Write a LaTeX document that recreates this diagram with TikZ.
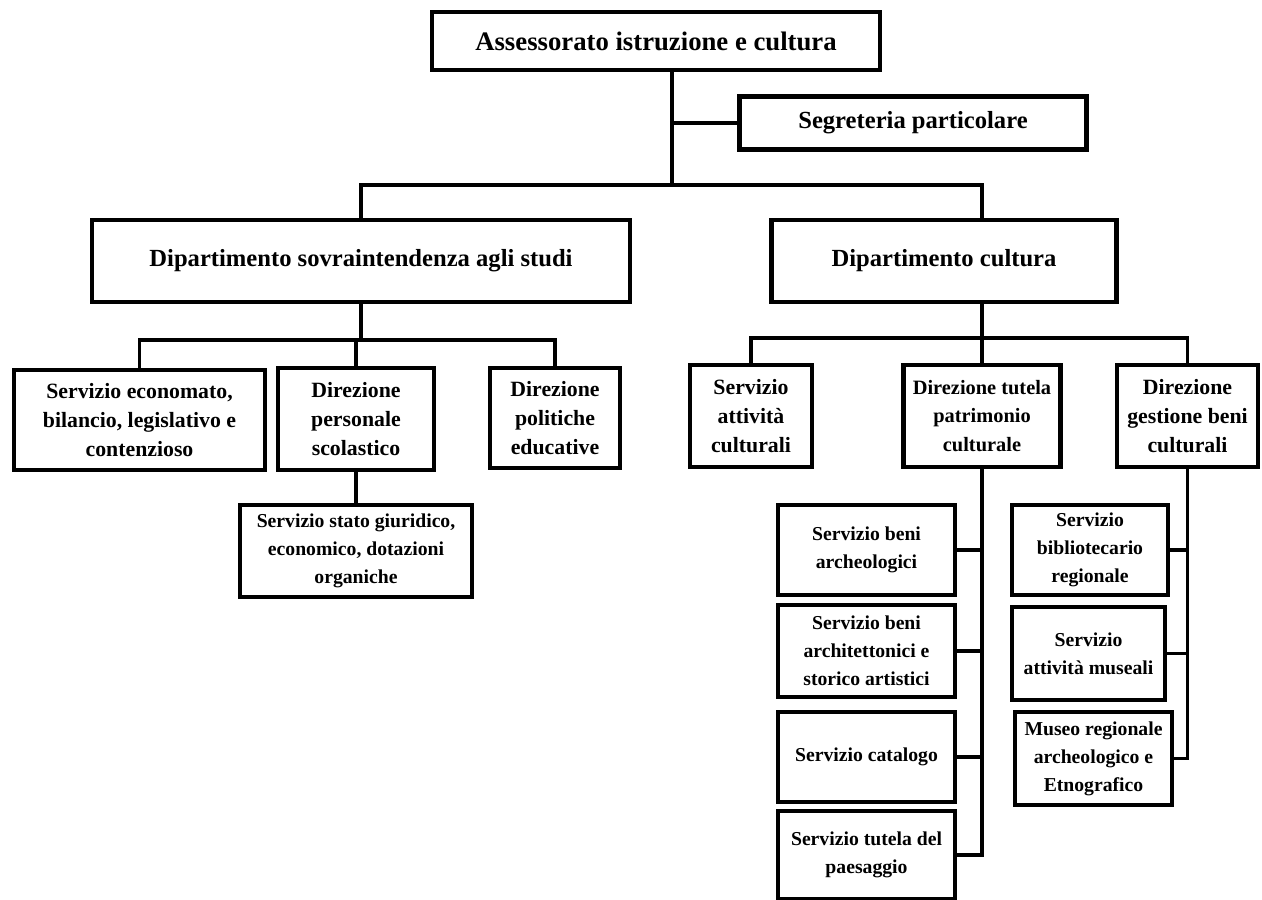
\documentclass[tikz,border=0pt]{standalone}
\usepackage{fontspec}
\setmainfont{Liberation Serif}
\tikzset{
  ufficio/.style={draw,line width=3pt,rectangle,fill=white,align=center,inner sep=1pt,
    font=\bfseries\fontsize{15.5}{20.5}\selectfont},
  capo/.style={ufficio,font=\bfseries\fontsize{17.5}{21}\selectfont},
  piccolo/.style={ufficio,font=\bfseries\fontsize{14}{20}\selectfont},
  filo/.style={line width=2.6pt}
}
\begin{document}
\begin{tikzpicture}[x=0.025cm,y=-0.025cm]
        \useasboundingbox (0,0) rectangle (1262,900);
        %% Vertice
        \node[capo,minimum width=11.2cm,minimum height=1.45cm,font=\bfseries\fontsize{19}{21}\selectfont] (ass) at (656,41) {Assessorato istruzione e cultura};
        \node[capo,minimum width=8.675cm,minimum height=1.325cm] (seg) at (913,123) {Segreteria particolare};
        %% Dipartimenti
        \node[capo,minimum width=13.45cm,minimum height=2.05cm] (dipS) at (361,261) {Dipartimento sovraintendenza agli studi};
        \node[capo,minimum width=8.625cm,minimum height=2.05cm] (dipC) at (944,261) {Dipartimento cultura};
        %% Sovraintendenza agli studi
        \node[ufficio,minimum width=6.275cm,minimum height=2.5cm] (econ) at (139.5,420) {Servizio economato,\\bilancio, legislativo e\\contenzioso};
        \node[ufficio,minimum width=3.9cm,minimum height=2.55cm] (pers) at (356,419) {Direzione\\personale\\scolastico};
        \node[ufficio,minimum width=3.25cm,minimum height=2.5cm] (poli) at (555,418) {Direzione\\politiche\\educative};
        \node[piccolo,minimum width=5.8cm,minimum height=2.3cm] (stato) at (356,551) {Servizio stato giuridico,\\economico, dotazioni\\organiche};
        %% Cultura
        \node[ufficio,minimum width=3.05cm,minimum height=2.55cm] (att) at (751,416) {Servizio\\attività\\culturali};
        \node[ufficio,minimum width=3.925cm,minimum height=2.55cm,font=\bfseries\fontsize{14.5}{20.5}\selectfont] (tut) at (982,416) {Direzione tutela\\patrimonio\\culturale};
        \node[ufficio,minimum width=3.525cm,minimum height=2.55cm] (ges) at (1187.5,416) {Direzione\\gestione beni\\culturali};
        %% Tutela patrimonio
        \node[piccolo,minimum width=4.425cm,minimum height=2.25cm] (arch) at (866.5,550) {Servizio beni\\archeologici};
        \node[piccolo,minimum width=4.425cm,minimum height=2.3cm] (archit) at (866.5,651) {Servizio beni\\architettonici e\\storico artistici};
        \node[piccolo,minimum width=4.425cm,minimum height=2.25cm] (cat) at (866.5,757) {Servizio catalogo};
        \node[piccolo,minimum width=4.425cm,minimum height=2.2cm] (paes) at (866.5,855) {Servizio tutela del\\paesaggio};
        %% Gestione beni
        \node[piccolo,minimum width=3.9cm,minimum height=2.25cm] (bib) at (1090,550) {Servizio\\bibliotecario\\regionale};
        \node[piccolo,minimum width=3.825cm,minimum height=2.325cm] (mus) at (1088.5,653.5) {Servizio\\attività museali};
        \node[piccolo,minimum width=3.925cm,minimum height=2.325cm] (museo) at (1093.5,758.5) {Museo regionale\\archeologico e\\Etnografico};
        %% Collegamenti in alto
        \coordinate (nodo) at (672,185);
        \coordinate (bar1) at (0,340);
        \coordinate (bar2) at (0,338);
        \draw[filo] (ass.south -| nodo) -- (nodo);
        \draw[filo] (seg.west) -- (seg.west -| nodo);
        \draw[filo] (dipS.north) |- (tut.north |- nodo) -- (tut.north |- dipC.north);
        %% Sovraintendenza
        \draw[filo] (dipS.south) -- (dipS.south |- bar1);
        \draw[filo] (econ.north) |- (poli.north |- bar1) -- (poli.north);
        \draw[filo] (pers.north |- bar1) -- (pers.north);
        \draw[filo] (pers.south) -- (stato.north);
        %% Cultura
        \draw[filo] (dipC.south -| tut.north) -- (tut.north);
        \draw[filo] (att.north) |- (ges.north |- bar2) -- (ges.north);
        \draw[filo] (tut.south) |- (paes.east);
        \draw[filo] (arch.east) -- (arch.east -| tut.south);
        \draw[filo] (archit.east) -- (archit.east -| tut.south);
        \draw[filo] (cat.east) -- (cat.east -| tut.south);
        \draw[filo] (ges.south) |- (museo.east);
        \draw[filo] (bib.east) -- (bib.east -| ges.south);
        \draw[filo] (mus.east) -- (mus.east -| ges.south);
    \end{tikzpicture}
\end{document}
